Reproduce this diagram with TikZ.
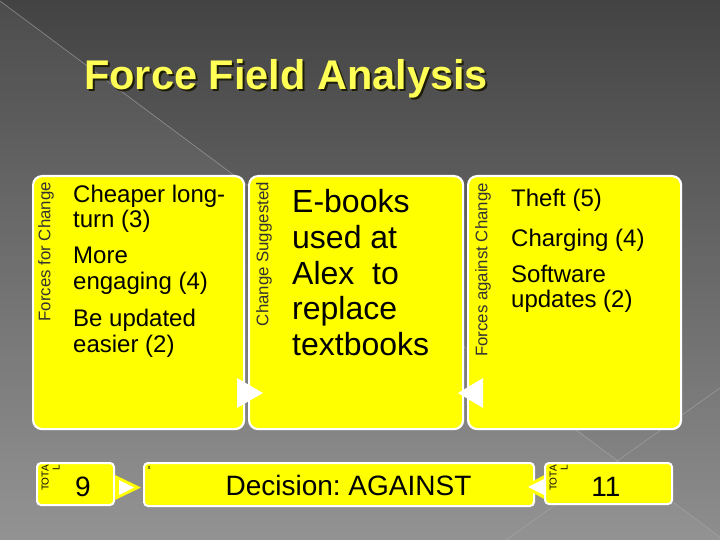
\documentclass[tikz,border=0pt]{standalone}
\usepackage{fontspec}
\setmainfont{Liberation Sans}
\frenchspacing
\definecolor{bgtop}{HTML}{434343}
\definecolor{bgbot}{HTML}{8E8E8E}
\definecolor{boxyellow}{HTML}{FFFF00}
\definecolor{titleyellow}{HTML}{FFFF55}
\definecolor{titleshadow}{HTML}{1E1E08}
\definecolor{labelgray}{HTML}{333333}
\definecolor{bgline}{HTML}{A8A8A8}
\begin{document}
\begin{tikzpicture}[x=1pt,y=-1pt,
  bigbox/.style={draw=white, line width=2.2pt, fill=boxyellow, rounded corners=9pt, inner sep=0pt, anchor=north west},
  smallbox/.style={draw=white, line width=2pt, fill=boxyellow, rounded corners=4pt, inner sep=0pt, anchor=north west},
  item/.style={anchor=base west, inner sep=0pt, font=\fontsize{24}{26}\selectfont},
  bigitem/.style={anchor=base west, inner sep=0pt, font=\fontsize{32}{35}\selectfont},
  vlabel/.style={rotate=90, anchor=east, inner sep=0pt, text=labelgray, font=\fontsize{16.8}{18}\selectfont},
  totlabel/.style={rotate=90, anchor=north east, inner sep=0pt, align=right, font=\fontsize{10}{11}\selectfont},
  number/.style={anchor=base, inner sep=0pt, font=\fontsize{28}{30}\selectfont},
  titletext/.style={anchor=base west, inner sep=0pt, font=\fontsize{41.5}{48}\selectfont\bfseries},
  bgstroke/.style={draw=bgline, line width=0.6pt, opacity=0.7}
]
\useasboundingbox (0,0) rectangle (720,540);
% background
\shade[top color=bgtop, bottom color=bgbot] (0,0) rectangle (720,540);
\fill[white, opacity=0.05] (0,1) -- (720,537) -- (720,540) -- (0,540) -- cycle;
\draw[bgstroke] (0,1) -- (720,537);
\draw[bgstroke] (720,388) -- (506,540);

% title (with drop shadow)
\node[titletext, text=titleshadow] (titleshadow) at (86,92) {Force Field Analysis};
\node[titletext, text=titleyellow] (title) at (84,90) {Force Field Analysis};

% big boxes
\node[bigbox, minimum width=211pt, minimum height=253pt] (forbox) at (32,175) {};
\node[bigbox, minimum width=214pt, minimum height=253pt] (changebox) at (248,175) {};
\node[bigbox, minimum width=213pt, minimum height=253pt] (againstbox) at (467,175) {};

% vertical labels
\node[vlabel] (forlabel) at (46,182) {Forces for Change};
\node[vlabel] (changelabel) at (264,182) {Change Suggested};
\node[vlabel] (againstlabel) at (483,183) {Forces against Change};

% left items
\node[item] (f1) at (73,203) {Cheaper long-};
\node[item] (f2) at (73,228) {turn (3)};
\node[item] (f3) at (73,263) {More};
\node[item] (f4) at (73,289) {engaging (4)};
\node[item] (f5) at (73,326) {Be updated};
\node[item] (f6) at (73,352) {easier (2)};

% middle items
\node[bigitem] (c1) at (292,213) {E-books};
\node[bigitem] (c2) at (292,248.5) {used at};
\node[bigitem] (c3) at (292,284) {Alex\ \ to};
\node[bigitem] (c4) at (292,319.5) {replace};
\node[bigitem] (c5) at (292,355) {textbooks};

% right items
\node[item] (a1) at (511,207) {Theft (5)};
\node[item] (a2) at (511,247) {Charging (4)};
\node[item] (a3) at (511,282) {Software};
\node[item] (a4) at (511,307) {updates (2)};

% top arrows
\fill[white] (237,378) -- (237,408) -- (263,393) -- cycle;
\fill[white] (483,378) -- (483,408) -- (458,393) -- cycle;

% bottom row
\node[smallbox, minimum width=77pt, minimum height=42pt] (totleft) at (36,462) {};
\node[smallbox, minimum width=390pt, minimum height=43pt] (decision) at (143,462) {};
\fill[boxyellow] (115,475) -- (115,500) -- (141,487.5) -- cycle;
\fill[white] (119,480) -- (119,495) -- (134,487.5) -- cycle;
\fill[boxyellow] (548,473) -- (548,501) -- (522,487) -- cycle;
\fill[white] (544,479) -- (544,495) -- (528,487) -- cycle;
\node[smallbox, minimum width=127pt, minimum height=41pt] (totright) at (544,462) {};

\node[totlabel] (totleftlabel) at (41.5,465) {TOTA\\L};
\node[totlabel] (totrightlabel) at (549.5,465) {TOTA\\L};
\node[number] (nine) at (83,496) {9};
\node[number] (eleven) at (606,496) {11};
\node[number] (decisiontext) at (348.5,495) {Decision: AGAINST};
\node[inner sep=0pt, font=\fontsize{6}{6}\selectfont] (xmark) at (149,468) {x};
\end{tikzpicture}
\end{document}
